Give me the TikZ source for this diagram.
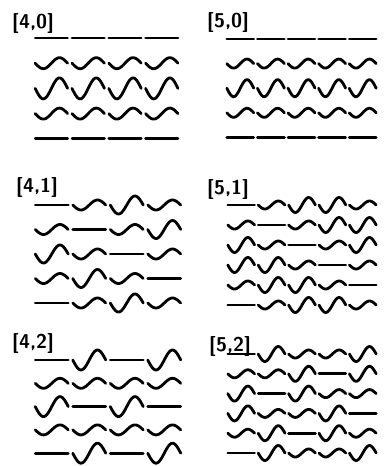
\documentclass[tikz,border=0pt]{standalone}
\usepackage{tikz}
% #1,#2 = left end of first row, #3 = tile width, #4 = row step,
% #5 = small amplitude, #6 = big amplitude, #7 = rows of tile types
\newcommand\tilerows[7]{%
  \foreach \rowlist [count=\ri from 0] in {#7} {
    \foreach \t [count=\ci from 0] in \rowlist {
      \draw[stroke] plot[domain=0:1,samples=30,smooth]
        ({#1+(\ci+0.06+0.88*\x)*#3},{#2+\ri*#4+(\t==2 ? #6 : \t*#5)*sin(360*\x)});
    }
  }}
\begin{document}
\begin{tikzpicture}[x=1pt,y=-1pt,
  stroke/.style={line width=2.8pt,line cap=round,line join=round},
  tag/.style={font=\sffamily\bfseries\fontsize{20}{20}\selectfont,inner sep=0pt,anchor=south west}]
\useasboundingbox (0,0) rectangle (386,466);

\node[tag] (p40) at (12,34) {[4,0]};
\node[tag] (p50) at (207,33) {[5,0]};
\node[tag] (p41) at (16,198) {[4,1]};
\node[tag] (p51) at (207,200) {[5,1]};
\node[tag] (p42) at (12,354) {[4,2]};
\node[tag] (p52) at (209,357) {[5,2]};

\tilerows{33}{38}{36.8}{25.2}{5.5}{10.5}{{0,0,0,0},{1,1,1,1},{2,2,2,2},{1,1,1,1},{0,0,0,0}}
\tilerows{225}{39}{30.6}{24.6}{4.5}{8.5}{{0,0,0,0,0},{1,1,1,1,1},{2,2,2,2,2},{1,1,1,1,1},{0,0,0,0,0}}

\tilerows{33}{205}{37.5}{24.5}{5}{9}{{0,1,2,1},{1,0,1,2},{2,1,0,1},{1,2,1,0},{0,1,2,1}}
\tilerows{226}{205}{30.4}{20}{4}{7.5}{{0,1,2,2,1},{1,0,1,2,2},{2,1,0,1,2},{2,2,1,0,1},{1,2,2,1,0},{0,1,2,2,1}}

\tilerows{33}{360}{37.5}{23.3}{5}{10}{{0,2,0,2},{1,1,1,1},{2,0,2,0},{1,1,1,1},{0,2,0,2}}
\tilerows{226}{354}{30.4}{19.8}{4}{7.5}{{0,2,1,1,2},{1,1,2,0,2},{2,0,2,1,1},{2,1,1,2,0},{1,2,0,2,1},{0,2,1,1,2}}
\end{tikzpicture}
\end{document}
